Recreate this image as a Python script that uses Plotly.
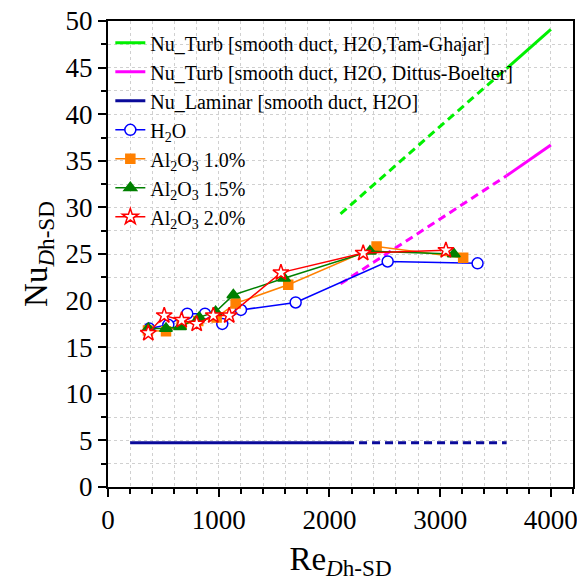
import plotly.graph_objects as go

# Experimental Nusselt number vs Reynolds number
re_h2o = [373, 545, 716, 876, 1032, 1201, 1695, 2526, 3338]
nu_h2o = [17.0, 17.4, 18.6, 18.6, 17.5, 19.0, 19.8, 24.2, 24.0]

re_al10 = [361, 524, 665, 815, 981, 1153, 1628, 2426, 3208]
nu_al10 = [16.8, 16.7, 17.4, 17.8, 18.2, 19.7, 21.7, 25.8, 24.6]

re_al15 = [364, 524, 650, 824, 972, 1132, 1590, 2366, 3124]
nu_al15 = [17.0, 17.0, 17.2, 18.2, 18.8, 20.6, 22.4, 25.3, 25.0]

re_al20 = [364, 508, 665, 801, 951, 1095, 1562, 2305, 3052]
nu_al20 = [16.5, 18.4, 17.9, 17.5, 18.4, 18.4, 23.0, 25.1, 25.4]

# Smooth-duct reference correlations (transitional part dashed)
re_tg_dash = [2100, 2500, 3000, 3600]
nu_tg_dash = [29.3, 33.5, 38.7, 44.9]
re_tg_solid = [3600, 4000]
nu_tg_solid = [44.9, 49.1]

re_db_dash = [2100, 2500, 3000, 3600]
nu_db_dash = [21.8, 24.9, 28.8, 33.4]
re_db_solid = [3600, 4000]
nu_db_solid = [33.4, 36.7]

re_lam_solid = [200, 2150]
nu_lam_solid = [4.75, 4.75]
re_lam_dash = [2150, 3600]
nu_lam_dash = [4.75, 4.75]

GREEN = "#00F000"
MAGENTA = "#FF00FF"
NAVY = "#0A0A9A"

fig = go.Figure()

# correlation lines: solid parts carry the legend entries
fig.add_trace(go.Scatter(x=re_tg_solid, y=nu_tg_solid, mode="lines",
                         line=dict(color=GREEN, width=3),
                         name="Nu_Turb [smooth duct, H2O,Tam-Ghajar]"))
fig.add_trace(go.Scatter(x=re_db_solid, y=nu_db_solid, mode="lines",
                         line=dict(color=MAGENTA, width=3),
                         name="Nu_Turb [smooth duct, H2O, Dittus-Boelter]"))
fig.add_trace(go.Scatter(x=re_lam_solid, y=nu_lam_solid, mode="lines",
                         line=dict(color=NAVY, width=3),
                         name="Nu_Laminar [smooth duct, H2O]"))
fig.add_trace(go.Scatter(x=re_tg_dash, y=nu_tg_dash, mode="lines",
                         line=dict(color=GREEN, width=3, dash="8px,5px"),
                         showlegend=False))
fig.add_trace(go.Scatter(x=re_db_dash, y=nu_db_dash, mode="lines",
                         line=dict(color=MAGENTA, width=3, dash="8px,5px"),
                         showlegend=False))
fig.add_trace(go.Scatter(x=re_lam_dash, y=nu_lam_dash, mode="lines",
                         line=dict(color=NAVY, width=3, dash="8px,5px"),
                         showlegend=False))

# measured data
fig.add_trace(go.Scatter(x=re_h2o, y=nu_h2o, mode="lines+markers",
                         line=dict(color="#0000FF", width=1.5),
                         marker=dict(symbol="circle", size=11, color="white",
                                     line=dict(color="#0000FF", width=1.5)),
                         name="H<sub>2</sub>O"))
fig.add_trace(go.Scatter(x=re_al10, y=nu_al10, mode="lines+markers",
                         line=dict(color="#FF8000", width=1.5),
                         marker=dict(symbol="square", size=9, color="#FF8000",
                                     line=dict(color="#FF8000", width=1.5)),
                         name="Al<sub>2</sub>O<sub>3</sub> 1.0%"))
fig.add_trace(go.Scatter(x=re_al15, y=nu_al15, mode="lines+markers",
                         line=dict(color="#008000", width=1.5),
                         marker=dict(symbol="triangle-up", size=11, color="#008000",
                                     line=dict(color="#008000", width=1.5)),
                         name="Al<sub>2</sub>O<sub>3</sub> 1.5%"))
fig.add_trace(go.Scatter(x=re_al20, y=nu_al20, mode="lines+markers",
                         line=dict(color="#FF0000", width=1.5),
                         marker=dict(symbol="star", size=12, color="white",
                                     line=dict(color="#FF0000", width=1.5)),
                         name="Al<sub>2</sub>O<sub>3</sub> 2.0%"))

FONT = "Liberation Serif"
grid = dict(showgrid=True, gridcolor="#D0D0D0", griddash="dot", gridwidth=1)

fig.update_layout(
    width=577, height=583,
    margin=dict(l=108, r=4, t=21, b=96, autoexpand=False),
    plot_bgcolor="white", paper_bgcolor="white",
    font=dict(family=FONT, color="black", size=26),
    legend=dict(x=0.005, y=0.995, xanchor="left", yanchor="top",
                bgcolor="rgba(0,0,0,0)", font=dict(family=FONT, size=20),
                tracegroupgap=0, itemwidth=30),
    xaxis=dict(range=[0, 4200], tickvals=[0, 1000, 2000, 3000, 4000],
               automargin=False, ticklabeloverflow="allow",
               showline=True, linecolor="black", linewidth=2, mirror=True,
               ticks="outside", ticklen=8, tickwidth=2, tickcolor="black",
               zeroline=False, tickfont=dict(family=FONT, size=27),
               minor=dict(dtick=200, ticks="outside", ticklen=5, tickwidth=2,
                          tickcolor="black", **grid),
               title=dict(text="Re<sub><i>D</i>h-SD</sub>",
                          font=dict(family=FONT, size=33), standoff=12),
               **grid),
    yaxis=dict(range=[0, 50], dtick=5, automargin=False,
               ticklabeloverflow="allow",
               showline=True, linecolor="black", linewidth=2, mirror=True,
               ticks="outside", ticklen=8, tickwidth=2, tickcolor="black",
               zeroline=False, tickfont=dict(family=FONT, size=27),
               minor=dict(dtick=2.5, ticks="outside", ticklen=5, tickwidth=2,
                          tickcolor="black", **grid),
               title=dict(text="Nu<sub><i>D</i>h-SD</sub>",
                          font=dict(family=FONT, size=33), standoff=8),
               **grid),
)

fig.write_html("out.html")
